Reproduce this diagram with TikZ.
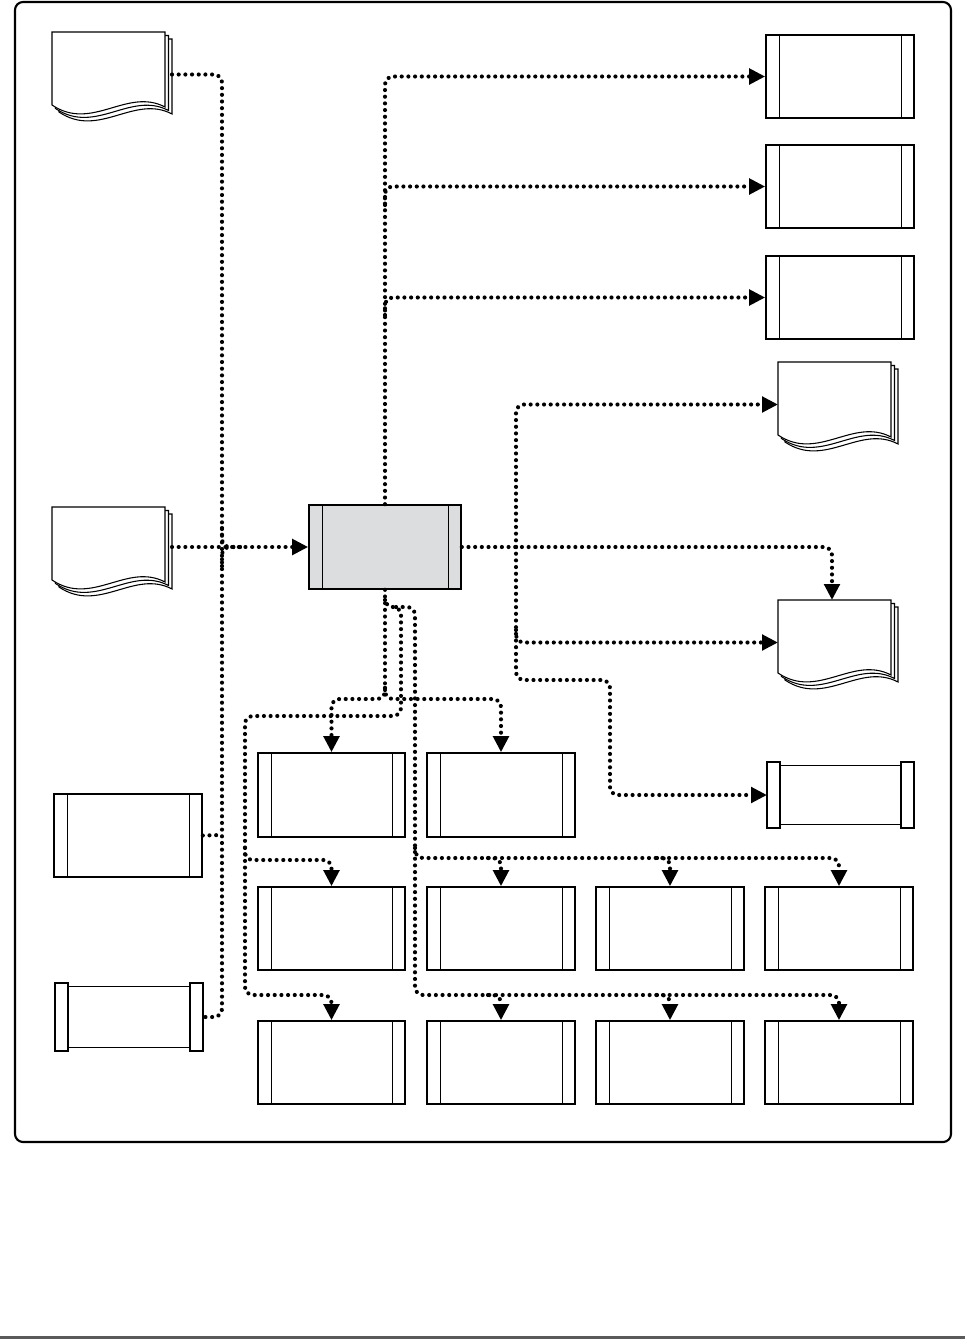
\documentclass[tikz,border=0pt]{standalone}
\usetikzlibrary{arrows.meta,fit}
\definecolor{mainfill}{RGB}{220,221,223}
\definecolor{rulegray}{RGB}{90,90,90}
\tikzset{
 flowdots/.style={line width=3.1pt, line cap=round, dash pattern=on 0.01pt off 5pt, rounded corners=6pt},
 flow/.style={flowdots, -{Triangle[length=12pt,width=11.5pt]}},
 boxouter/.style={draw, line width=1.2pt, inner sep=0pt},
 boxinner/.style={line width=0.6pt},
 pagestyle/.style={draw, fill=white, line width=0.8pt},
 hidden/.style={inner sep=0pt, outer sep=0pt, draw=none},
 tapepart/.style={draw, fill=white, line width=1pt},
}
\newcommand{\ppbox}[6]{%
 \node[boxouter, fill=#6, fit={(#2,#3) (#4,#5)}] (#1) {};
 \draw[boxinner] (#2+13,#3) -- (#2+13,#5) (#4-13,#3) -- (#4-13,#5);
}
\newcommand{\tapebox}[5]{%
 \node[hidden, fit={(#2,#3) (#4,#5)}] (#1) {};
 \draw[tapepart] (#2+13,#3+3.5) rectangle (#4-13,#5-3.5);
 \draw[tapepart] (#2,#3) rectangle (#2+13,#5);
 \draw[tapepart] (#4-13,#3) rectangle (#4,#5);
}
\newcommand{\docstack}[3]{%
 \node[hidden, fit={(#2,#3) (#2+120,#3+85)}] (#1) {};
 \foreach \o in {7,3.5,0}{
  \draw[pagestyle] (#2+\o,#3+\o) -- (#2+\o+113,#3+\o) -- (#2+\o+113,#3+\o+75)
   .. controls (#2+\o+75,#3+\o+55) and (#2+\o+40,#3+\o+100) .. (#2+\o,#3+\o+73) -- cycle;
 }
}
\begin{document}
\begin{tikzpicture}[x=0.75pt,y=-0.75pt]
\useasboundingbox (0,0) rectangle (965,1339);
% frame
\draw[line width=1.6pt, rounded corners=6pt] (15,2) rectangle (951,1142);
\fill[rulegray] (0,1336) rectangle (965,1339);

% documents
\docstack{d1}{52}{32}
\docstack{d2}{52}{507}
\docstack{d3}{778}{362}
\docstack{d4}{778}{600}

% main process
\ppbox{main}{309}{505}{461}{589}{mainfill}

% right column
\ppbox{r1}{766}{35}{914}{118}{white}
\ppbox{r2}{766}{145}{914}{228}{white}
\ppbox{r3}{766}{256}{914}{339}{white}
\tapebox{r4}{767}{762}{914}{828}

% left column
\ppbox{l1}{54}{794}{202}{877}{white}
\tapebox{l2}{55}{983}{203}{1051}

% bottom grid
\ppbox{b11}{258}{753}{405}{837}{white}
\ppbox{b12}{427}{753}{575}{837}{white}
\ppbox{b21}{258}{887}{405}{970}{white}
\ppbox{b22}{427}{887}{575}{970}{white}
\ppbox{b23}{596}{887}{744}{970}{white}
\ppbox{b24}{765}{887}{913}{970}{white}
\ppbox{b31}{258}{1021}{405}{1104}{white}
\ppbox{b32}{427}{1021}{575}{1104}{white}
\ppbox{b33}{596}{1021}{744}{1104}{white}
\ppbox{b34}{765}{1021}{913}{1104}{white}

% left inputs
\draw[flowdots] (d1.east) -- (222,74.5) -- (222,1017) -- (l2.east);
\draw[flowdots] (l1.east) -- (222,835);
\draw[flowdots] (222,528) |- (240,547);
\draw[flowdots] (222,566) |- (240,547);
\draw[flow] (d2.east |- main.west) -- (main.west);

% top outputs
\draw[flow] (main.north) |- (r1.west);
\draw[flow] (385,205) |- (r2.west);
\draw[flow] (385,315) |- (r3.west);

% right outputs
\draw[flow] (main.east) -- (832,547) -- ([xshift=-4.5pt]d4.north);
\draw[flow] (516,547) |- (d3.west);
\draw[flow] (516,630) |- (d4.west);
\draw[flow] (516,547) -- (516,680) -- (610,680) -- (610,795) -- (r4.west);

% bottom outputs
\draw[flowdots] (main.south) -- (385,690);
\draw[flow] (385,688) -- (385,699) -| (b11.north);
\draw[flow] (385,688) -- (385,699) -| (b12.north);
\draw[flow] (385,600) -- (385,607) -- (401,607) -- (401,716) -- (245,716) -- (245,995) -| (b31.north);
\draw[flow] (245,848) -- (245,860) -| (b21.north);
\draw[flow] (396,607) -- (415,607) -- (415,995) -| (b34.north);
\draw[flow] (415,848) -- (415,858) -| (b24.north);
\draw[flow] (488,858) -| (b22.north);
\draw[flow] (657,858) -| (b23.north);
\draw[flow] (488,995) -| (b32.north);
\draw[flow] (657,995) -| (b33.north);
\end{tikzpicture}
\end{document}
